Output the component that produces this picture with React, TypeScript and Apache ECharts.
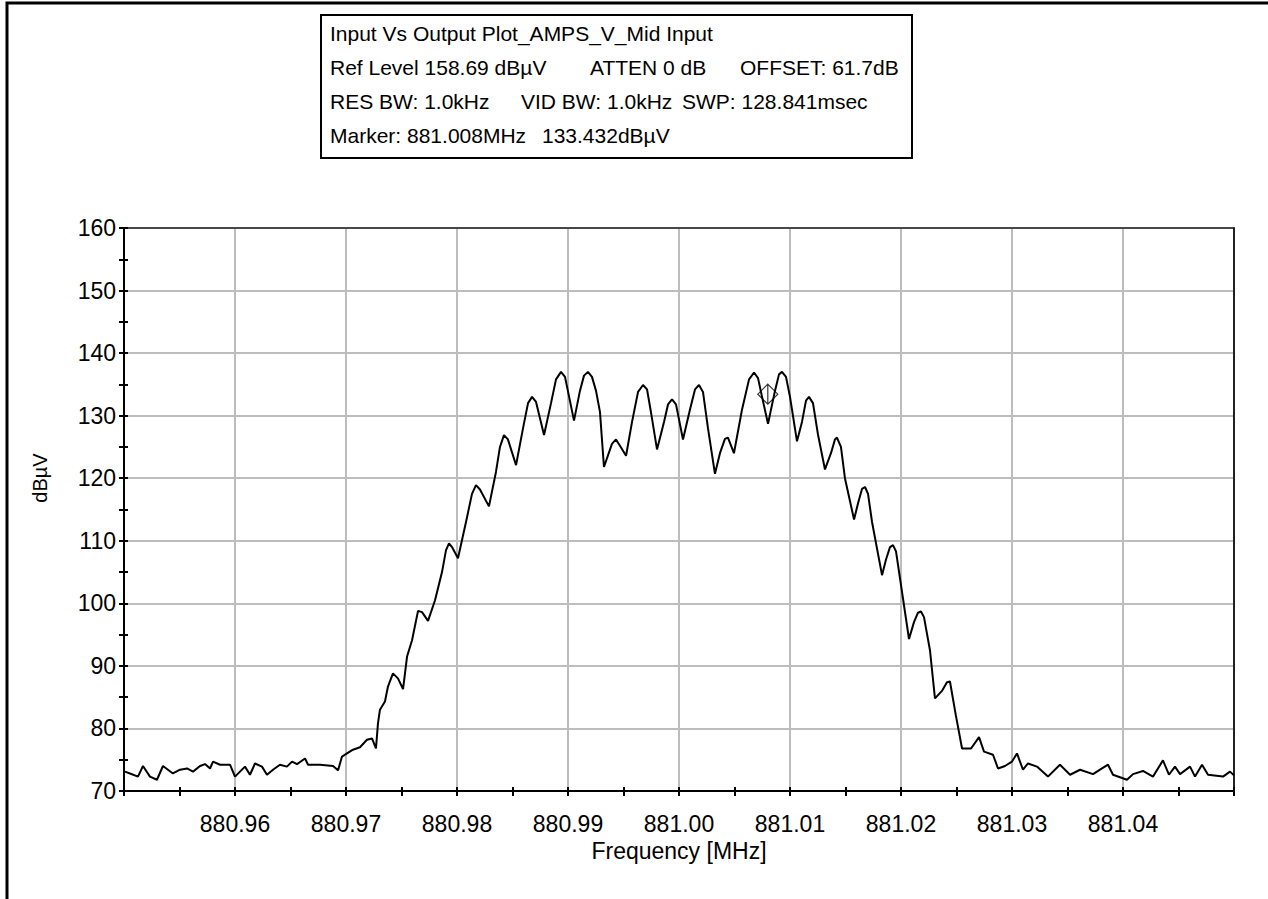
import React, { useEffect, useRef } from "react";
import * as echarts from "echarts";

const titleLines = [
  ["Input Vs Output Plot_AMPS_V_Mid Input"],
  ["Ref Level 158.69 dBµV", "ATTEN 0 dB", "OFFSET: 61.7dB"],
  ["RES BW: 1.0kHz", "VID BW: 1.0kHz", "SWP: 128.841msec"],
  ["Marker: 881.008MHz", "133.432dBµV"],
];

const xAxisName = "Frequency [MHz]";
const yAxisName = "dBµV";

const freqMHz = [
  880.95009, 880.95054, 880.95126, 880.95171, 880.95234, 880.95297, 880.95351, 880.95441, 880.95505, 880.95568,
  880.95622, 880.95685, 880.9573, 880.95775, 880.95802, 880.95865, 880.95955, 880.96, 880.96045, 880.9609,
  880.96135, 880.9618, 880.96243, 880.96288, 880.96342, 880.96405, 880.96468, 880.96514, 880.96559, 880.96631,
  880.96658, 880.96766, 880.96883, 880.96928, 880.96964, 880.97009, 880.97063, 880.97126, 880.97189, 880.97234,
  880.9727, 880.97288, 880.97306, 880.97351, 880.97378, 880.97423, 880.97468, 880.97514, 880.9755, 880.97595,
  880.97649, 880.97685, 880.97739, 880.97802, 880.97865, 880.97901, 880.97928, 880.97955, 880.98009, 880.98081,
  880.98135, 880.98171, 880.98207, 880.98288, 880.98351, 880.98387, 880.98423, 880.98459, 880.98532, 880.98595,
  880.9864, 880.98676, 880.98712, 880.98784, 880.98847, 880.98892, 880.98937, 880.98973, 880.99054, 880.99108,
  880.99144, 880.9918, 880.99216, 880.99252, 880.99288, 880.99324, 880.99396, 880.99432, 880.99468, 880.99523,
  880.99577, 880.99631, 880.99676, 880.99712, 880.99748, 880.99802, 880.99865, 880.99901, 880.99937, 880.99973,
  881.00036, 881.00099, 881.00144, 881.0018, 881.00216, 881.00261, 881.00324, 881.00369, 881.00414, 881.00441,
  881.00495, 881.00568, 881.00631, 881.00676, 881.00712, 881.00748, 881.00802, 881.00865, 881.00901, 881.00928,
  881.00964, 881.01, 881.01063, 881.01108, 881.01144, 881.01171, 881.01207, 881.01252, 881.01315, 881.01369,
  881.01405, 881.01423, 881.01459, 881.01495, 881.01577, 881.01613, 881.01649, 881.01676, 881.01703, 881.01739,
  881.01829, 881.01865, 881.01901, 881.01928, 881.01955, 881.01991, 881.02072, 881.02117, 881.02153, 881.0218,
  881.02207, 881.02261, 881.02306, 881.02369, 881.02414, 881.02441, 881.02495, 881.0255, 881.02631, 881.02703,
  881.02748, 881.02829, 881.02874, 881.02937, 881.03, 881.03045, 881.03099, 881.03144, 881.03225, 881.03324,
  881.03432, 881.03523, 881.03613, 881.0373, 881.038, 881.03865, 881.0391, 881.04036, 881.0409, 881.0418,
  881.0427, 881.0436, 881.04414, 881.04468, 881.04514, 881.04604, 881.04649, 881.04712, 881.04766, 881.04901,
  881.04964, 881.05,
];

const levelDBuV = [
  73.1, 72.8, 72.3, 74.0, 72.3, 71.8, 74.0, 72.8, 73.4, 73.6,
  73.1, 74.0, 74.3, 73.6, 74.7, 74.2, 74.2, 72.3, 73.1, 73.9,
  72.6, 74.4, 73.9, 72.6, 73.4, 74.2, 73.9, 74.7, 74.3, 75.2,
  74.2, 74.2, 74.0, 73.3, 75.5, 76.0, 76.6, 77.0, 78.2, 78.4,
  76.8, 80.8, 83.0, 84.3, 86.7, 88.8, 88.0, 86.3, 91.5, 94.1,
  98.8, 98.6, 97.2, 100.5, 105.0, 108.5, 109.6, 109.0, 107.2, 113.0,
  117.5, 118.9, 118.2, 115.5, 121.0, 125.0, 126.9, 126.2, 122.1, 128.0,
  132.0, 133.0, 132.2, 126.9, 132.0, 135.8, 137.0, 136.2, 129.2, 134.0,
  136.4, 137.0, 136.2, 134.0, 130.6, 121.8, 125.5, 126.2, 125.2, 123.6,
  129.0, 133.8, 134.9, 134.2, 130.5, 124.6, 129.0, 131.8, 132.6, 131.8,
  126.2, 131.0, 134.2, 134.9, 133.8, 128.0, 120.7, 124.0, 126.3, 126.5,
  124.0, 131.0, 135.8, 136.9, 136.0, 133.0, 128.7, 134.0, 136.6, 137.0,
  136.2, 133.0, 125.9, 129.0, 132.4, 133.0, 132.0, 127.0, 121.4, 124.0,
  126.2, 126.5, 125.0, 120.0, 113.4, 116.0, 118.3, 118.6, 117.5, 113.0,
  104.5, 107.0, 109.0, 109.3, 108.3, 104.0, 94.3, 97.0, 98.5, 98.7,
  97.8, 92.5, 84.8, 86.0, 87.4, 87.5, 82.0, 76.8, 76.8, 78.6,
  76.3, 75.8, 73.6, 74.0, 74.7, 76.0, 73.4, 74.4, 73.9, 72.3,
  74.2, 72.6, 73.4, 72.7, 73.5, 74.2, 72.6, 71.8, 72.7, 73.2,
  72.3, 74.9, 72.6, 73.9, 72.7, 73.9, 72.3, 74.2, 72.6, 72.3,
  73.1, 72.5,
];

const markerFreq = 881.008;
const markerLevel = 133.432;

const X_MIN = 880.95;
const X_MAX = 881.05;
const Y_MIN = 70;
const Y_MAX = 160;

export default function App() {
  const ref = useRef<HTMLDivElement>(null);

  useEffect(() => {
    if (!ref.current) return;
    const chart = echarts.init(ref.current, null, { renderer: "svg" });
    const font = "'Liberation Sans', Arial, sans-serif";
    const tl = 330;
    const lineY = [35, 69, 103, 137];
    const segX = [
      [tl],
      [tl, 590, 740],
      [tl, 521, 682],
      [tl, 542],
    ];
    const texts: any[] = [];
    titleLines.forEach((line, i) => {
      line.forEach((s, j) => {
        texts.push({
          type: "text",
          left: segX[i][j],
          top: lineY[i] - 12,
          style: { text: s, font: `21px ${font}`, fill: "#000" },
        });
      });
    });

    const data = freqMHz.map((f, i) => [f, levelDBuV[i]]);
    const gridLine = { show: true, lineStyle: { color: "#bdbdbd", width: 2 } };
    const blackLine = { show: true, lineStyle: { color: "#000", width: 2 } };

    chart.setOption({
      animation: false,
      backgroundColor: "#fff",
      grid: { left: 124, right: 34, top: 228, bottom: 108, containLabel: false },
      xAxis: [
        {
          type: "value",
          min: X_MIN,
          max: X_MAX,
          interval: 0.01,
          position: "bottom",
          axisLine: blackLine,
          axisTick: { show: true, length: 5, lineStyle: { color: "#000", width: 2 } },
          minorTick: { show: true, splitNumber: 2, length: 5, lineStyle: { color: "#000", width: 2 } },
          splitLine: gridLine,
          axisLabel: {
            showMinLabel: false,
            showMaxLabel: false,
            margin: 21,
            color: "#000",
            fontSize: 23,
            fontFamily: font,
            formatter: (v: number) => v.toFixed(2),
          },
          name: xAxisName,
          nameLocation: "middle",
          nameGap: 42,
          nameTextStyle: { color: "#000", fontSize: 23, fontFamily: font },
        },
        {
          type: "value",
          min: X_MIN,
          max: X_MAX,
          interval: 0.01,
          position: "bottom",
          axisLine: { show: false },
          axisTick: { show: true, inside: true, length: 4, lineStyle: { color: "#000", width: 2 } },
          minorTick: { show: true, splitNumber: 2, length: 4, lineStyle: { color: "#000", width: 2 } },
          splitLine: { show: false },
          axisLabel: { show: false },
        },
        {
          type: "value",
          min: X_MIN,
          max: X_MAX,
          position: "top",
          axisLine: { show: true, lineStyle: { color: "#222", width: 1.5 } },
          axisTick: { show: false },
          splitLine: { show: false },
          axisLabel: { show: false },
        },
      ],
      yAxis: [
        {
          type: "value",
          min: Y_MIN,
          max: Y_MAX,
          interval: 10,
          position: "left",
          axisLine: blackLine,
          axisTick: { show: true, length: 5, lineStyle: { color: "#000", width: 2 } },
          minorTick: { show: true, splitNumber: 2, length: 5, lineStyle: { color: "#000", width: 2 } },
          splitLine: gridLine,
          axisLabel: { margin: 8, color: "#000", fontSize: 23, fontFamily: font },
        },
        {
          type: "value",
          min: Y_MIN,
          max: Y_MAX,
          interval: 10,
          position: "left",
          axisLine: { show: false },
          axisTick: { show: true, inside: true, length: 4, lineStyle: { color: "#000", width: 2 } },
          minorTick: { show: true, splitNumber: 2, length: 4, lineStyle: { color: "#000", width: 2 } },
          splitLine: { show: false },
          axisLabel: { show: false },
        },
        {
          type: "value",
          min: Y_MIN,
          max: Y_MAX,
          position: "right",
          axisLine: { show: true, lineStyle: { color: "#222", width: 2 } },
          axisTick: { show: false },
          splitLine: { show: false },
          axisLabel: { show: false },
        },
      ],
      series: [
        {
          type: "line",
          xAxisIndex: 0,
          yAxisIndex: 0,
          data,
          showSymbol: false,
          symbol: "none",
          lineStyle: { color: "#000", width: 2 },
          z: 5,
        },
        {
          type: "scatter",
          xAxisIndex: 0,
          yAxisIndex: 0,
          data: [[markerFreq, markerLevel]],
          symbol: "path://M0,-10L10,0L0,10L-10,0Z M0,-10L0,10",
          symbolSize: [20, 20],
          itemStyle: { color: "rgba(0,0,0,0)", borderColor: "#000", borderWidth: 1.2 },
          z: 6,
        },
      ],
      graphic: [
        {
          type: "polyline",
          shape: { points: [[7, 899], [7, 3], [1268, 3]] },
          style: { stroke: "#000", lineWidth: 3, fill: "none" },
        },
        {
          type: "rect",
          shape: { x: 321, y: 15, width: 591, height: 143 },
          style: { stroke: "#000", lineWidth: 2, fill: "#fff" },
        },
        {
          type: "text",
          x: 40,
          y: 478,
          rotation: Math.PI / 2,
          style: {
            text: yAxisName,
            font: `20px ${font}`,
            fill: "#000",
            align: "center",
            verticalAlign: "middle",
          },
        },
        ...texts,
      ],
    });
    return () => chart.dispose();
  }, []);

  return (
    <div
      ref={ref}
      style={{ position: "fixed", left: 0, top: 0, width: 1268, height: 899, background: "#fff" }}
    />
  );
}
